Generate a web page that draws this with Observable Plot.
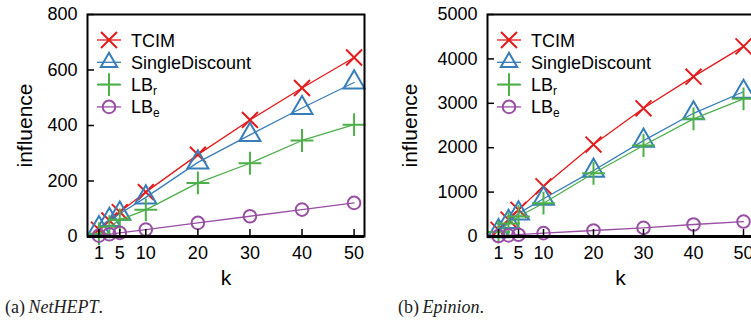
<!DOCTYPE html>
<html><head><meta charset="utf-8">
<script src="https://cdn.jsdelivr.net/npm/d3@7"></script>
<script src="https://cdn.jsdelivr.net/npm/@observablehq/plot@0.6"></script>
<style>
body{margin:0;background:#fff;}
#wrap{position:relative;width:751px;height:324px;overflow:hidden;background:#fff;font-family:"Liberation Sans",Arial,sans-serif;}
.panel{position:absolute;top:0;}
.panel svg{max-width:none !important;}
.legend{position:absolute;top:0;pointer-events:none;}
.cap{position:absolute;top:298px;font-family:"Liberation Serif","DejaVu Serif",serif;font-size:18px;line-height:1;color:#222;white-space:nowrap;}
</style></head><body><div id="wrap"></div>
<script>
// ---- data ----
const kValues = [1, 3, 5, 10, 20, 30, 40, 50];
const xTicks = [1, 5, 10, 20, 30, 40, 50];
const seriesNames = ["TCIM", "SingleDiscount", "LB_r", "LB_e"];
const seriesColors = ["#e41a1c", "#377eb8", "#4daf4a", "#984ea3"];
const seriesSymbols = ["times", "triangle", "plus", "circle"];

const netheptYTicks = [0, 200, 400, 600, 800];
const netheptTCIM = [25, 58, 88, 160, 295, 420, 535, 645];
const netheptSingleDiscount = [30, 60, 82, 141, 267, 366, 463, 555];
const netheptLBr = [10, 35, 60, 96, 193, 264, 346, 403];
const netheptLBe = [3, 8, 13, 25, 49, 73, 97, 121];

const epinionYTicks = [0, 1000, 2000, 3000, 4000, 5000];
const epinionTCIM = [150, 380, 600, 1130, 2070, 2887, 3600, 4282];
const epinionSingleDiscount = [120, 330, 520, 850, 1485, 2160, 2775, 3260];
const epinionLBr = [100, 290, 450, 750, 1425, 2050, 2650, 3100];
const epinionLBe = [10, 25, 40, 75, 135, 195, 270, 337];

const markerR = [7.3, 7.8, 7.4, 6.3];

const wrap = document.getElementById("wrap");
const FRAME_LEFT = 87, MARGIN_RIGHT = 11, MARGIN_TOP = 14, HEIGHT = 290, MARGIN_BOTTOM = 54;

function drawPanel({left, width, yDomain, yTicks, series, influenceDx, capLeft, capLetter, capName}) {
  const data = [];
  series.forEach((vals, si) => vals.forEach((v, i) => data.push({k: kValues[i], v, s: seriesNames[si]})));
  const lineMarks = [];
  seriesNames.forEach((name, si) => {
    const sub = data.filter(d => d.s === name);
    lineMarks.push(Plot.line(sub, {x: "k", y: "v", stroke: seriesColors[si], strokeWidth: 1.3}));
    lineMarks.push(Plot.dot(sub, {x: "k", y: "v", symbol: () => seriesSymbols[si], stroke: seriesColors[si], r: markerR[si], strokeWidth: 2, fill: "none"}));
  });
  const plot = Plot.plot({
    width, height: HEIGHT,
    marginLeft: FRAME_LEFT, marginRight: MARGIN_RIGHT, marginTop: MARGIN_TOP, marginBottom: MARGIN_BOTTOM,
    style: {fontFamily: '"Liberation Sans", Arial, sans-serif', fontSize: "18px", color: "#000", background: "transparent", overflow: "visible", maxWidth: "none"},
    x: {domain: [-1.2, 52]},
    y: {domain: yDomain},
    symbol: {type: "identity"},
    marks: [
      ...lineMarks,
      Plot.axisX(xTicks, {tickSize: 7, dy: -7, tickFormat: () => "", label: null, strokeWidth: 1.5}),
      Plot.axisX(xTicks, {tickSize: 0, tickPadding: 10, label: null, fontSize: 18}),
      Plot.axisY(yTicks, {tickSize: 7, dx: 7, tickFormat: () => "", label: null, strokeWidth: 1.5}),
      Plot.axisY(yTicks, {tickSize: 0, tickPadding: 10, label: null, fontSize: 18, tickFormat: d => String(d)}),
      Plot.frame({stroke: "#000", strokeWidth: 2}),
      Plot.ruleY([yDomain[0]], {stroke: "#000", strokeWidth: 3}),
      Plot.text(["k"], {frameAnchor: "bottom", lineAnchor: "middle", textAnchor: "middle", dy: 42, fontSize: 21}),
      Plot.text(["influence"], {frameAnchor: "left", lineAnchor: "middle", textAnchor: "middle", dx: influenceDx, rotate: -90, fontSize: 21})
    ]
  });
  const div = document.createElement("div");
  div.className = "panel";
  div.style.left = left + "px";
  div.style.width = width + "px";
  div.appendChild(plot);
  wrap.appendChild(div);

  // legend overlay
  const lg = d3.create("svg").attr("class", "legend").attr("width", 260).attr("height", 130)
    .style("left", (left + FRAME_LEFT) + "px");
  const symMap = {times: d3.symbolTimes, triangle: d3.symbolTriangle2, plus: d3.symbolPlus, circle: d3.symbolCircle};
  seriesNames.forEach((name, si) => {
    const y = 40 + si * 22.3;
    const g = lg.append("g");
    g.append("line").attr("x1", 10).attr("x2", 34).attr("y1", y).attr("y2", y)
      .attr("stroke", seriesColors[si]).attr("stroke-width", 1.3);
    g.append("path").attr("transform", `translate(22,${y})`)
      .attr("d", d3.symbol(symMap[seriesSymbols[si]], markerR[si] * markerR[si] * Math.PI)())
      .attr("fill", "none").attr("stroke", seriesColors[si]).attr("stroke-width", 2);
    const t = g.append("text").attr("x", 44).attr("y", y + 6.5)
      .attr("font-family", '"Liberation Sans", Arial, sans-serif').attr("font-size", 18).attr("fill", "#000");
    if (name.startsWith("LB_")) {
      t.append("tspan").text("LB");
      t.append("tspan").attr("font-size", 12).attr("dy", 4).text(name.slice(3));
    } else t.text(name);
  });
  wrap.appendChild(lg.node());

  const cap = document.createElement("div");
  cap.className = "cap";
  cap.style.left = capLeft + "px";
  cap.innerHTML = `(${capLetter})&#8201;<i>${capName}</i>.`;
  wrap.appendChild(cap);
}

drawPanel({left: 0, width: 375, yDomain: [0, 800], yTicks: netheptYTicks,
  series: [netheptTCIM, netheptSingleDiscount, netheptLBr, netheptLBe],
  influenceDx: -62, capLeft: 5, capLetter: "a", capName: "NetHEPT"});
drawPanel({left: 400, width: 364, yDomain: [0, 5000], yTicks: epinionYTicks,
  series: [epinionTCIM, epinionSingleDiscount, epinionLBr, epinionLBe],
  influenceDx: -77, capLeft: 398, capLetter: "b", capName: "Epinion"});
</script></body></html>
